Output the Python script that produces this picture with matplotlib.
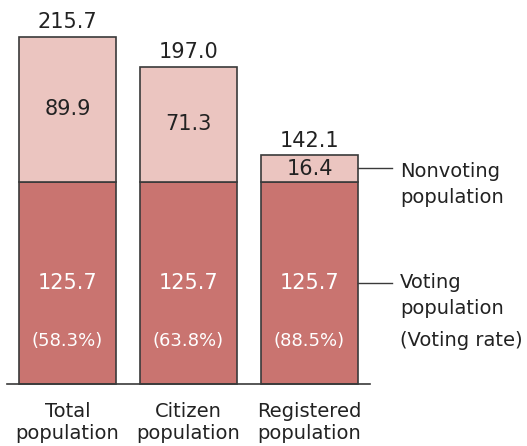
import matplotlib

matplotlib.use("Agg")
import matplotlib.pyplot as plt
import numpy as np

categories = ["Total\npopulation", "Citizen\npopulation", "Registered\npopulation"]
voting = [125.7, 125.7, 125.7]
nonvoting = [89.9, 71.3, 16.4]
totals = [215.7, 197.0, 142.1]
rates = ["(58.3%)", "(63.8%)", "(88.5%)"]

DARK = "#c97470"
LIGHT = "#ebc5c0"
EDGE = "#3a3a3a"
TXT = "#222222"

fig = plt.figure(figsize=(5.27, 4.46), dpi=100)
ax = fig.add_axes([0, 0, 1, 1])
# pixel-based limits: bar spacing 121 px, 1.609 px per unit
ax.set_xlim(-67.5 / 121, (527 - 67.5) / 121)
ax.set_ylim(-62 / 1.609, 384 / 1.609)
ax.axis("off")

x = np.arange(len(categories))
ax.bar(x, voting, width=0.8, color=DARK, edgecolor=EDGE, linewidth=1.2, zorder=2)
ax.bar(x, nonvoting, width=0.8, bottom=voting, color=LIGHT, edgecolor=EDGE,
       linewidth=1.2, zorder=2)
ax.plot([-0.5, 2.5], [0, 0], color=EDGE, lw=1.2, zorder=3, clip_on=False)

fs = 15
fl = 14
for i in x:
    ax.text(i, totals[i] + 3, f"{totals[i]:.1f}", ha="center", va="bottom",
            fontsize=fs, color=TXT)
    ax.text(i, voting[i] + nonvoting[i] / 2, f"{nonvoting[i]:.1f}", ha="center",
            va="center", fontsize=fs, color=TXT)
    ax.text(i, voting[i] / 2, f"{voting[i]:.1f}", ha="center", va="center",
            fontsize=fs, color="white")
    ax.text(i, 27, rates[i], ha="center", va="center", fontsize=13,
            color="white")
    ax.text(i, -11, categories[i], ha="center", va="top", fontsize=fl,
            color=TXT, linespacing=1.2)

# side labels with leader lines
x0 = 2.4
x1 = (392 - 67.5) / 121
xt = (400 - 67.5) / 121
y_nv = voting[2] + nonvoting[2] / 2 + 0.5
y_v = voting[2] / 2
ax.plot([x0, x1], [y_nv, y_nv], color=EDGE, lw=1, clip_on=False)
ax.plot([x0, x1], [y_v, y_v], color=EDGE, lw=1, clip_on=False)
ax.text(xt, y_nv - 2.5, "Nonvoting", ha="left", va="center", fontsize=fl, color=TXT)
ax.text(xt, y_nv - 18.5, "population", ha="left", va="center", fontsize=fl, color=TXT)
ax.text(xt, y_v, "Voting", ha="left", va="center", fontsize=fl, color=TXT)
ax.text(xt, y_v - 16, "population", ha="left", va="center", fontsize=fl, color=TXT)
ax.text(xt, 27, "(Voting rate)", ha="left", va="center", fontsize=fl, color=TXT)

fig.savefig("out.png", dpi=100)
